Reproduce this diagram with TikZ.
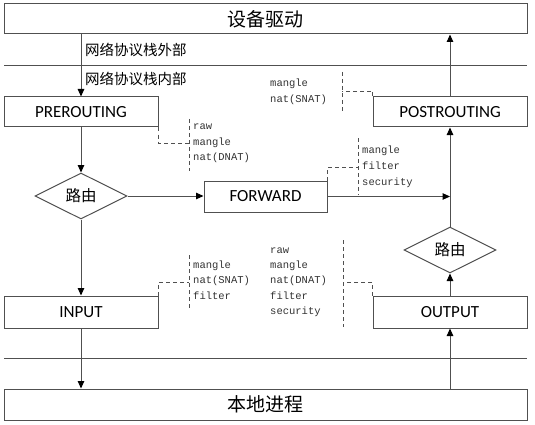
\documentclass[tikz,border=0pt]{standalone}
\usepackage{fontspec}
\setmainfont{Carlito}
\newfontfamily\cjk{Noto Sans CJK SC}
\newfontfamily\monof{Liberation Mono}
\usetikzlibrary{shapes.geometric,arrows.meta}
\definecolor{ln}{RGB}{80,80,80}
\begin{document}
\begin{tikzpicture}[x=1pt,y=-1pt,
 box/.style={draw=ln, line width=1pt, minimum width=154pt, minimum height=30pt, inner sep=0pt, font=\fontsize{17}{17}\selectfont},
 wide/.style={draw=ln, line width=1pt, minimum width=523pt, minimum height=30pt, inner sep=0pt, font=\cjk\fontsize{19}{19}\selectfont},
 dia/.style={diamond, draw=ln, line width=1pt, minimum width=92pt, minimum height=46pt, inner sep=0pt, aspect=2, font=\cjk\fontsize{15.5}{15.5}\selectfont},
 flow/.style={draw=ln, line width=1pt, -{Triangle[length=7.5pt,width=6.5pt,color=black]}},
 brk/.style={draw=ln, line width=0.8pt, dash pattern=on 4pt off 3pt},
 tbl/.style={font=\monof\fontsize{10.5}{10.5}\selectfont, anchor=west, inner sep=0pt, text height=7.5pt, text depth=2.5pt, text=black!80},
 zone/.style={font=\cjk\fontsize{14.5}{14.5}\selectfont, anchor=west, inner sep=0pt},
 sep/.style={draw=ln, line width=1pt}
]
\useasboundingbox (0,0) rectangle (535,425);

% separator lines
\coordinate (s1l) at (4,66); \coordinate (s1r) at (527,66);
\coordinate (s2l) at (4,358); \coordinate (s2r) at (527,358);
\draw[sep] (s1l) -- (s1r);
\draw[sep] (s2l) -- (s2r);

% boxes
\node[wide] (dev) at (265.5,19) {设备驱动};
\node[wide, minimum height=31pt] (local) at (265.5,404.5) {本地进程};
\node[box] (pre) at (81,112) {PREROUTING};
\node[box] (post) at (450,112) {POSTROUTING};
\node[box, minimum width=123pt, minimum height=31pt] (fwd) at (265.5,196.5) {FORWARD};
\node[box, minimum height=32pt] (inp) at (81,312) {INPUT};
\node[box, minimum height=32pt] (outp) at (450,312) {OUTPUT};
\node[dia] (r1) at (81,196) {路由};
\node[dia] (r2) at (450,250) {路由};

% zone labels
\node[zone] (zout) at (85,50) {网络协议栈外部};
\node[zone] (zin) at (85,79) {网络协议栈内部};

% flows
\draw[flow] (dev.south -| pre.north) -- (pre.north);
\draw[flow] (pre.south) -- (r1.north);
\draw[flow] (r1.south) -- (inp.north);
\draw[flow] (inp.south) -- (local.north -| inp.south);
\draw[flow] (local.north -| outp.south) -- (outp.south);
\draw[flow] (outp.north) -- (r2.south);
\draw[flow] (r2.north) -- (post.south);
\draw[flow] (post.north) -- (dev.south -| post.north);
\draw[flow] (r1.east) -- (fwd.west |- r1.east);
\coordinate (join) at (450,196.5);
\draw[flow] (fwd.east) -- (join);

% bracket: PREROUTING
\coordinate (b1a) at (189,119); \coordinate (b1b) at (189,171);
\draw[brk] (b1a) -- (b1b);
\draw[brk] (pre.south east) |- (189,143);
\node[tbl] (t1a) at (193,127) {raw};
\node[tbl] (t1b) at (193,143) {mangle};
\node[tbl] (t1c) at (193,158) {nat(DNAT)};

% bracket: FORWARD
\coordinate (b2a) at (358,138); \coordinate (b2b) at (358,195);
\draw[brk] (b2a) -- (b2b);
\draw[brk] (fwd.north east) |- (358,167);
\node[tbl] (t2a) at (362,151) {mangle};
\node[tbl] (t2b) at (362,167) {filter};
\node[tbl] (t2c) at (362,183) {security};

% bracket: POSTROUTING
\coordinate (b3a) at (342,72); \coordinate (b3b) at (342,113);
\draw[brk] (b3a) -- (b3b);
\draw[brk] (post.north west) |- (342,91);
\node[tbl] (t3a) at (270,84) {mangle};
\node[tbl] (t3b) at (270,100) {nat(SNAT)};

% bracket: INPUT
\coordinate (b4a) at (189,255); \coordinate (b4b) at (189,308);
\draw[brk] (b4a) -- (b4b);
\draw[brk] (inp.north east) |- (189,282);
\node[tbl] (t4a) at (193,266) {mangle};
\node[tbl] (t4b) at (193,281) {nat(SNAT)};
\node[tbl] (t4c) at (193,297) {filter};

% bracket: OUTPUT
\coordinate (b5a) at (343,240); \coordinate (b5b) at (343,327);
\draw[brk] (b5a) -- (b5b);
\draw[brk] (outp.north west) |- (343,282);
\node[tbl] (t5a) at (270,251) {raw};
\node[tbl] (t5b) at (270,266) {mangle};
\node[tbl] (t5c) at (270,281) {nat(DNAT)};
\node[tbl] (t5d) at (270,297) {filter};
\node[tbl] (t5e) at (270,312) {security};
\end{tikzpicture}
\end{document}
